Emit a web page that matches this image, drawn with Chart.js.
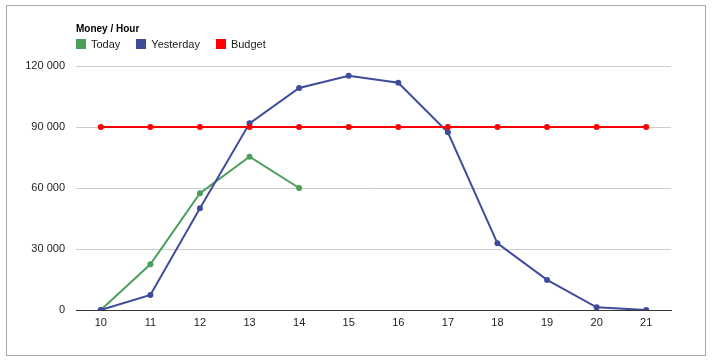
<!DOCTYPE html>
<html>
<head>
<meta charset="utf-8">
<script src="https://cdn.jsdelivr.net/npm/chart.js@4/dist/chart.umd.min.js"></script>
<style>
body { margin: 0; background: #fff; font-family: "Liberation Sans", Arial, sans-serif; }
#frame { position: absolute; left: 6px; top: 5px; width: 698px; height: 349px; border: 1px solid #aaa; }
#title { position: absolute; left: 76px; top: 23px; font-size: 10px; font-weight: bold; color: #000; }
#legend { position: absolute; left: 76px; top: 38px; font-size: 11px; color: #222; white-space: nowrap; }
#legend span.item { display: inline-block; margin-right: 16px; line-height: 13px; }
#legend span.box { display: inline-block; width: 10px; height: 10px; margin-right: 5px; vertical-align: -1px; }
#wrap { position: absolute; left: 6px; top: 5px; width: 699px; height: 350px; }
</style>
</head>
<body>
<div id="frame"></div>
<div id="wrap"><canvas id="myChart"></canvas></div>
<div id="title">Money / Hour</div>
<div id="legend"></div>
<script>
var hours = ['10', '11', '12', '13', '14', '15', '16', '17', '18', '19', '20', '21']
var today = [0, 22500, 57400, 75400, 60000, null, null, null, null, null, null, null]
var yesterday = [0, 7400, 50000, 91800, 109200, 115200, 111800, 87400, 32800, 14800, 1300, 0]
var budget = [90000, 90000, 90000, 90000, 90000, 90000, 90000, 90000, 90000, 90000, 90000, 90000]
var yTicks = [0, 30000, 60000, 90000, 120000]

var names = ['Today', 'Yesterday', 'Budget']
var colors = ['#4c9f5b', '#3f4c9b', '#ff0000']

// legend
var lg = document.getElementById('legend')
for (let i = 0; i < names.length; i++) {
	lg.innerHTML += '<span class="item"><span class="box" style="background:' + colors[i] + '"></span>' + names[i] + '</span>'
}

function fmt(v) {
	return v.toString().replace(/\B(?=(\d{3})+(?!\d))/g, ' ')
}

function ds(label, data, color, order) {
	return {
		label: label,
		data: data,
		borderColor: color,
		backgroundColor: color,
		borderWidth: 2,
		pointRadius: 3,
		pointHoverRadius: 3,
		pointBorderWidth: 0,
		tension: 0,
		spanGaps: false,
		order: order
	}
}

Chart.defaults.font.family = '"Liberation Sans", Arial, sans-serif'
Chart.defaults.font.size = 11
Chart.defaults.color = '#222'

new Chart(document.getElementById('myChart'), {
	type: 'line',
	data: {
		labels: hours,
		datasets: [
			ds(names[0], today, colors[0], 2),
			ds(names[1], yesterday, colors[1], 1),
			ds(names[2], budget, colors[2], 0)
		]
	},
	options: {
		responsive: true,
		maintainAspectRatio: false,
		animation: false,
		layout: { padding: { left: 0, right: 34, top: 61, bottom: 0 } },
		plugins: {
			legend: { display: false },
			title: { display: false },
			tooltip: { enabled: false }
		},
		scales: {
			x: {
				offset: true,
				grid: { display: false, drawTicks: false },
				border: { display: true, color: '#333', width: 1 },
				ticks: { padding: 6, color: '#222' },
				afterFit: function (s) { s.height = 45 }
			},
			y: {
				min: 0,
				max: 120000,
				afterBuildTicks: function (s) { s.ticks = yTicks.map(function (v) { return { value: v } }) },
				grid: {
					drawTicks: false,
					color: function (c) { return c.tick && c.tick.value === 0 ? '#333' : '#ccc' }
				},
				border: { display: false },
				ticks: { padding: 11, color: '#222', callback: function (v) { return fmt(v) } },
				afterFit: function (s) { s.width = 70 }
			}
		}
	}
})
</script>
</body>
</html>
